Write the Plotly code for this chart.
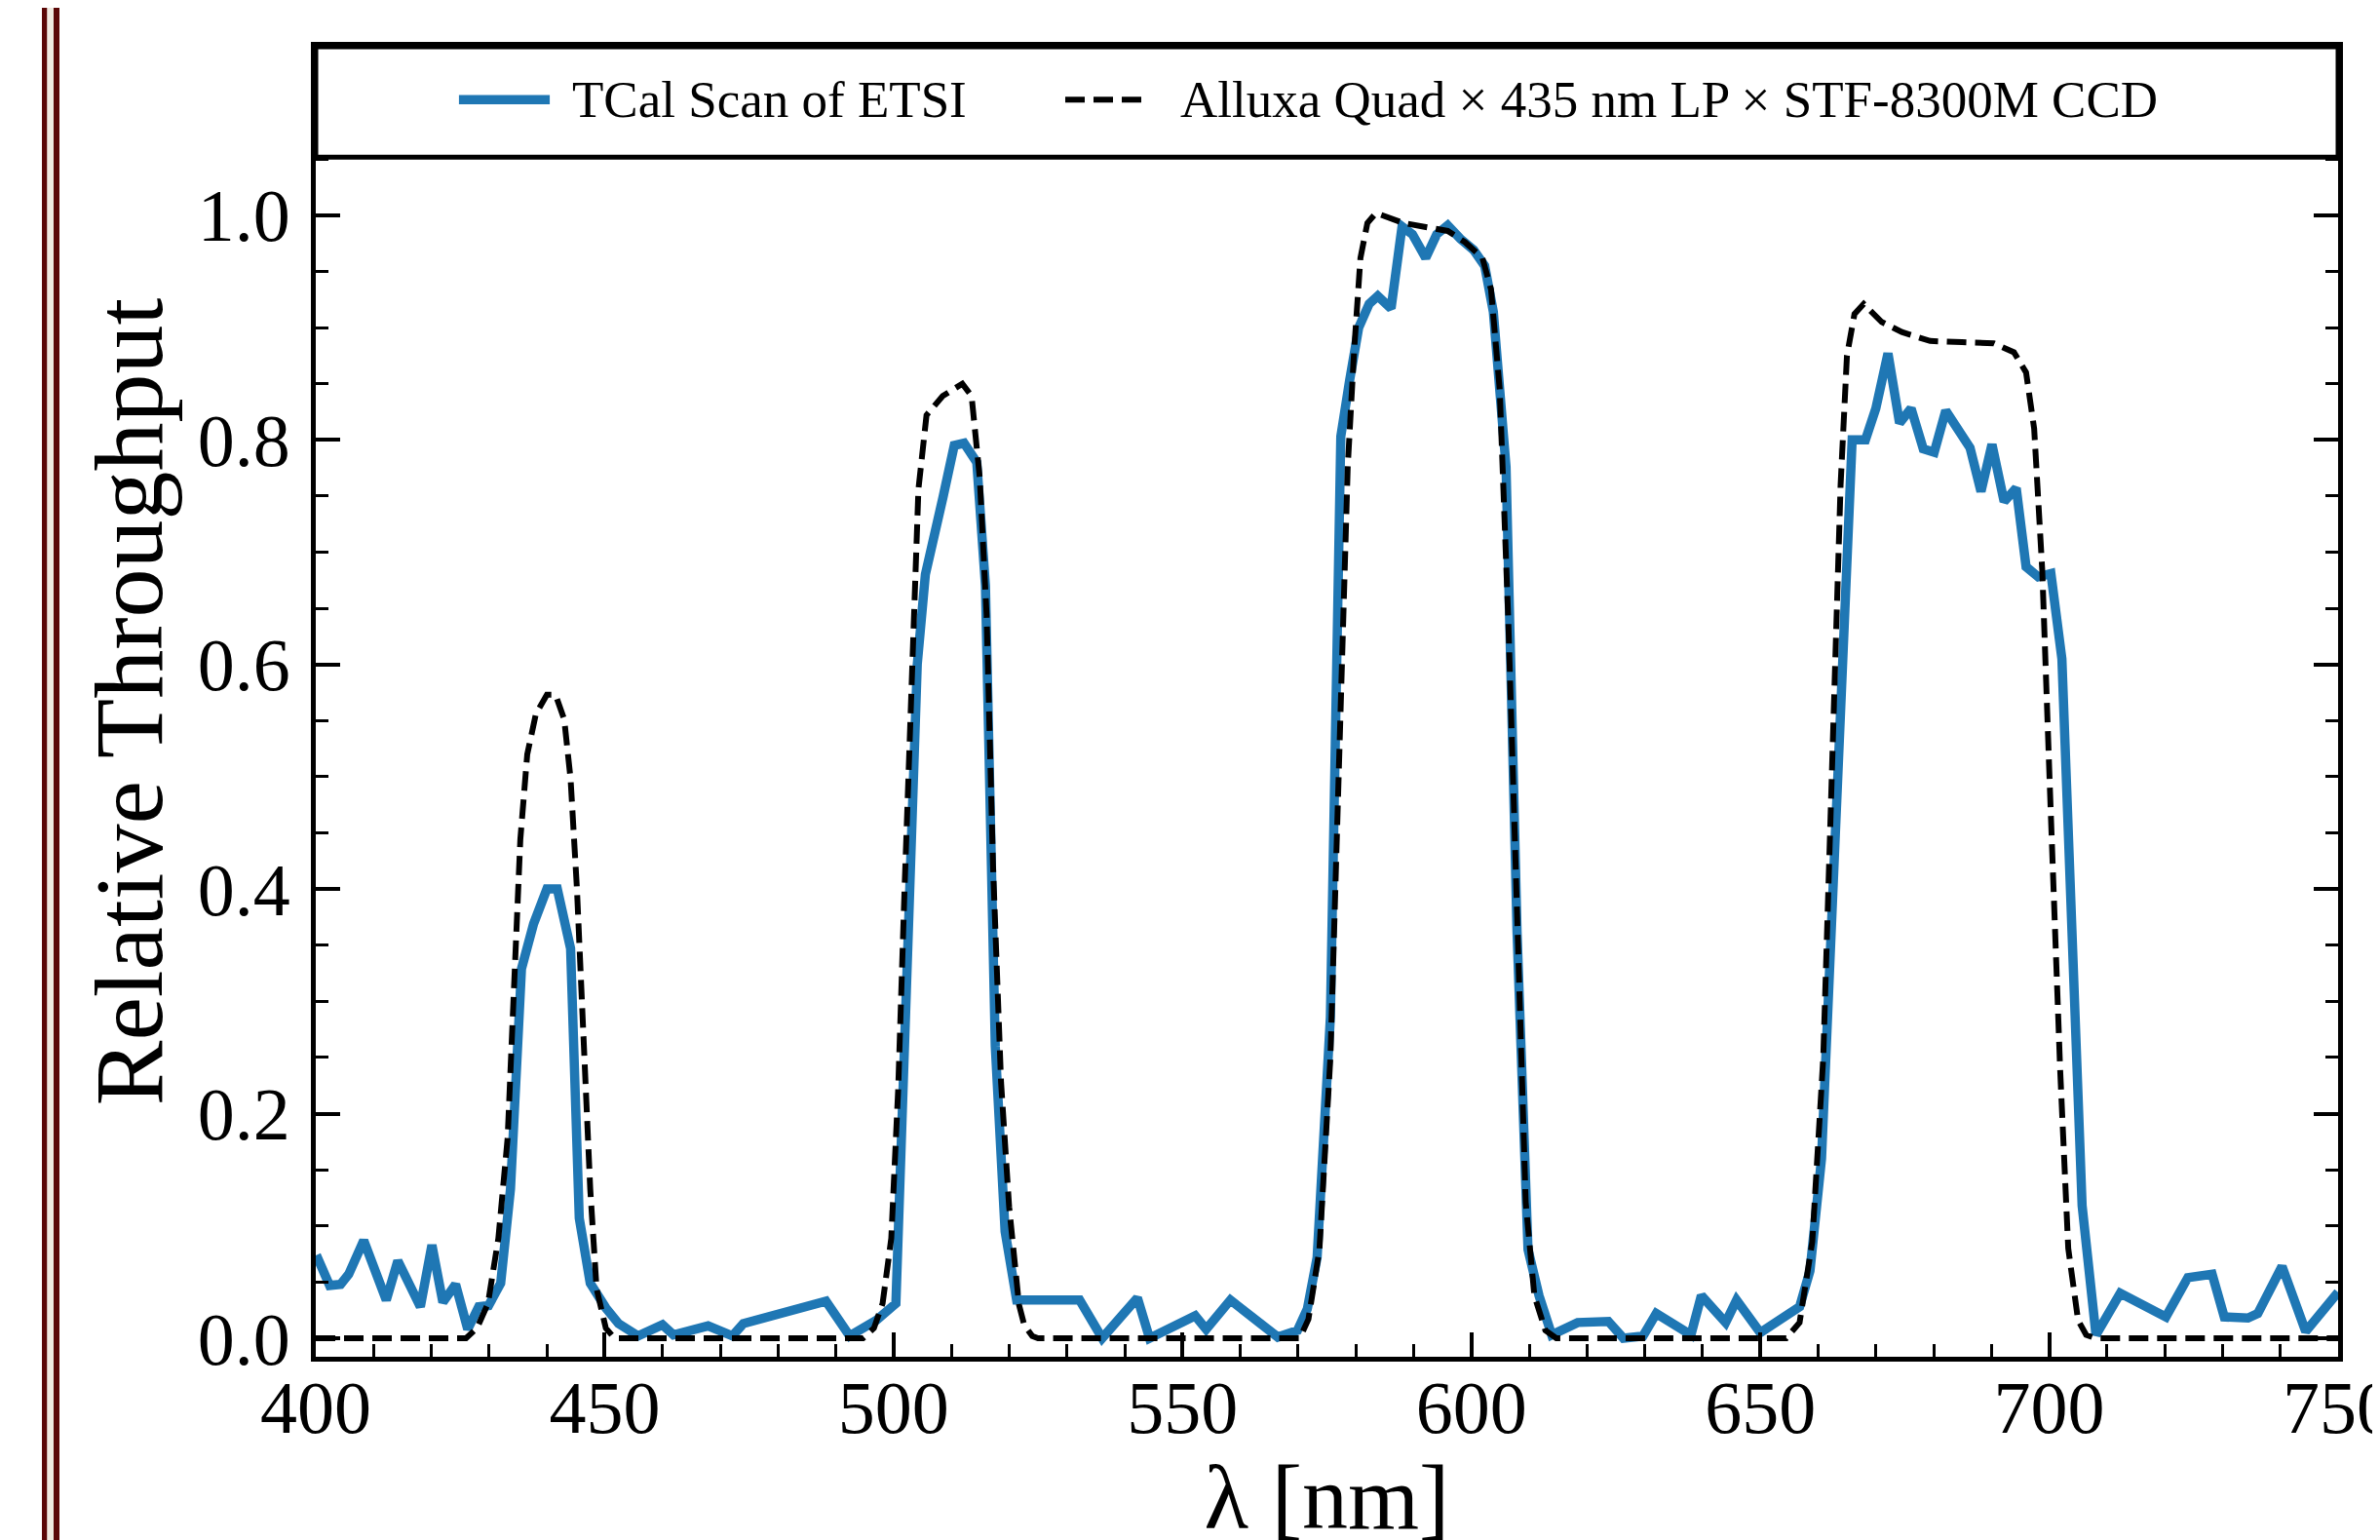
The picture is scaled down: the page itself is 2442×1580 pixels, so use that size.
import plotly.graph_objects as go

# TCal scan of ETSI (blue, measured)
scan_wl = [
    400.1, 402.4, 404.3, 405.7, 408.3, 412.2, 414.2, 418.1, 420.1, 422.0,
    424.2, 426.3, 428.2, 429.9, 432.0, 433.7, 435.6, 437.7, 440.0, 441.8,
    444.1, 445.6, 447.5, 450.2, 452.4, 455.8, 460.0, 461.9, 467.9, 472.1,
    474.0, 488.3, 492.4, 497.0, 500.4, 504.1, 505.5, 507.0, 508.6, 510.5,
    512.2, 514.4, 515.9, 517.6, 519.3, 521.3, 532.2, 536.1, 542.2, 544.3,
    552.2, 554.1, 558.3, 566.5, 569.9, 571.6, 573.3, 575.6, 577.4, 578.9,
    580.5, 582.3, 583.8, 586.1, 588.0, 589.8, 592.1, 594.0, 595.9, 598.1,
    600.4, 602.3, 603.8, 606.0, 607.9, 609.8, 611.7, 613.9, 618.4, 623.7,
    626.3, 629.7, 632.0, 638.0, 639.8, 644.0, 645.9, 650.0, 656.8, 658.6,
    660.6, 665.9, 668.2, 670.0, 672.1, 674.1, 676.1, 678.2, 680.1, 682.1,
    684.2, 686.3, 688.2, 690.1, 692.2, 694.3, 696.0, 698.1, 700.3, 702.2,
    705.7, 708.1, 712.3, 720.2, 724.0, 728.2, 730.3, 734.4, 736.1, 740.3,
    744.4, 750.0,
]
scan_tp = [
    0.074, 0.047, 0.048, 0.057, 0.087, 0.034, 0.069, 0.028, 0.083, 0.032,
    0.048, 0.008, 0.028, 0.029, 0.049, 0.133, 0.329, 0.369, 0.400, 0.400,
    0.347, 0.107, 0.049, 0.027, 0.013, 0.002, 0.012, 0.003, 0.011, 0.002,
    0.013, 0.033, 0.002, 0.016, 0.031, 0.600, 0.680, 0.718, 0.750, 0.795,
    0.797, 0.780, 0.670, 0.260, 0.095, 0.034, 0.034, 0.000, 0.036, 0.000,
    0.020, 0.008, 0.034, 0.001, 0.007, 0.026, 0.072, 0.286, 0.803, 0.852,
    0.900, 0.921, 0.928, 0.917, 0.990, 0.983, 0.962, 0.983, 0.991, 0.979,
    0.969, 0.955, 0.914, 0.776, 0.362, 0.079, 0.038, 0.003, 0.014, 0.015,
    0.000, 0.002, 0.022, 0.003, 0.038, 0.014, 0.034, 0.005, 0.028, 0.060,
    0.160, 0.800, 0.800, 0.828, 0.877, 0.815, 0.828, 0.792, 0.789, 0.826,
    0.808, 0.793, 0.754, 0.796, 0.745, 0.757, 0.687, 0.678, 0.681, 0.605,
    0.118, 0.003, 0.040, 0.019, 0.054, 0.057, 0.019, 0.018, 0.022, 0.064,
    0.006, 0.041,
]

# Alluxa Quad x 435 nm LP x STF-8300M CCD (dashed, model)
model_wl = [
    400.0, 426.0, 427.9, 429.8, 431.6, 433.2, 434.3, 435.4, 436.6, 438.1,
    440.0, 441.5, 443.0, 444.1, 445.2, 446.4, 447.5, 448.6, 450.2, 451.7,
    494.7, 496.6, 498.1, 499.6, 500.8, 501.9, 503.0, 504.3, 505.7, 508.5,
    511.9, 513.5, 514.9, 516.1, 517.2, 518.6, 520.0, 521.7, 522.6, 524.0,
    525.0, 570.3, 571.8, 573.7, 575.6, 577.1, 578.6, 579.7, 580.8, 582.0,
    583.5, 588.3, 592.1, 595.9, 598.9, 601.9, 603.4, 604.9, 606.4, 607.9,
    609.4, 610.9, 612.8, 614.7, 654.5, 656.8, 659.0, 660.9, 662.4, 663.9,
    665.0, 666.3, 667.9, 671.0, 674.5, 679.4, 684.9, 690.4, 693.9, 696.0,
    697.4, 698.8, 700.1, 701.9, 703.3, 705.0, 706.4, 708.0, 750.0,
]
model_tp = [
    0.000, 0.000, 0.009, 0.031, 0.089, 0.178, 0.311, 0.444, 0.520, 0.556,
    0.573, 0.573, 0.551, 0.498, 0.400, 0.267, 0.133, 0.044, 0.009, 0.000,
    0.000, 0.009, 0.031, 0.089, 0.222, 0.400, 0.578, 0.756, 0.822, 0.839,
    0.850, 0.839, 0.767, 0.644, 0.422, 0.228, 0.117, 0.030, 0.012, 0.002,
    0.000, 0.000, 0.017, 0.079, 0.250, 0.500, 0.776, 0.879, 0.962, 0.993,
    1.002, 0.993, 0.990, 0.986, 0.976, 0.962, 0.934, 0.845, 0.638, 0.362,
    0.121, 0.038, 0.007, 0.000, 0.000, 0.014, 0.086, 0.250, 0.500, 0.760,
    0.875, 0.912, 0.921, 0.905, 0.896, 0.888, 0.887, 0.886, 0.878, 0.860,
    0.810, 0.684, 0.493, 0.239, 0.080, 0.016, 0.003, 0.000, 0.000,
]

x_ticks = [400, 450, 500, 550, 600, 650, 700, 750]
y_ticks = [0.0, 0.2, 0.4, 0.6, 0.8, 1.0]
legend_names = ['TCal Scan of ETSI', 'Alluxa Quad × 435 nm LP × STF-8300M CCD']

FONT = 'Liberation Serif'
BLUE = '#1f77b4'
MAROON = '#5a0707'
DASH = '20px,9px'

fig = go.Figure()

fig.add_trace(
    go.Scatter(
        x=scan_wl,
        y=scan_tp,
        mode='lines',
        name=legend_names[0],
        line=dict(color=BLUE, width=9.5)
    )
)

fig.add_trace(
    go.Scatter(
        x=model_wl,
        y=model_tp,
        mode='lines',
        name=legend_names[1],
        line=dict(color='black', width=6, dash=DASH)
    )
)

axis_common = dict(
    showline=True,
    linecolor='black',
    linewidth=5,
    showgrid=False,
    zeroline=False,
    ticks='inside',
    ticklen=25,
    tickwidth=4,
    tickcolor='black',
    tickfont=dict(family=FONT, size=76, color='black'),
    ticklabeloverflow='allow',
    automargin=False,
)

fig.update_xaxes(
    **axis_common,
    mirror=True,
    range=[399.999, 750.001],
    tickvals=x_ticks,
    ticklabelstandoff=-18,
    minor=dict(dtick=10, tick0=400, ticks='inside', ticklen=13, tickwidth=3, tickcolor='black'),
    title=dict(text='λ [nm]', font=dict(family=FONT, size=94, color='black'), standoff=62),
)

fig.update_yaxes(
    **axis_common,
    mirror='allticks',
    range=[-0.0165, 1.15],
    tickvals=y_ticks,
    tickformat='.1f',
    ticklabelstandoff=6,
    minor=dict(dtick=0.05, tick0=0, ticks='inside', ticklen=13, tickwidth=3, tickcolor='black'),
    title=dict(text='Relative Throughput', font=dict(family=FONT, size=100, color='black'), standoff=4),
)

# legend band across the top of the axes
fig.add_shape(
    type='rect', xref='paper', yref='y',
    x0=0, x1=1, y0=1.0516, y1=1.15,
    fillcolor='white', line=dict(color='black', width=5), layer='above'
)

legend_y = 1.103
samples = [
    dict(x0=0.0708, x1=0.1157, color=BLUE, width=9.5, dash='solid', tx=0.1258),
    dict(x0=0.3706, x1=0.4120, color='black', width=6, dash=DASH, tx=0.4265),
]
for s, name in zip(samples, legend_names):
    fig.add_shape(
        type='line', xref='paper', yref='y',
        x0=s['x0'], x1=s['x1'], y0=legend_y, y1=legend_y,
        line=dict(color=s['color'], width=s['width'], dash=s['dash']),
        layer='above'
    )
    fig.add_annotation(
        x=s['tx'], y=legend_y, xref='paper', yref='y',
        text=name, showarrow=False, xanchor='left', yanchor='middle',
        font=dict(family=FONT, size=53, color='black')
    )

# maroon page rule on the far left
for x0, x1, col in [(35, 40.5, MAROON), (40.5, 47, '#efe9e0'), (47, 53, MAROON)]:
    fig.add_shape(
        type='rect', xref='paper', yref='paper',
        x0=(x0 - 316) / 2075, x1=(x1 - 316) / 2075, y0=-0.2, y1=1.1,
        fillcolor=col, line=dict(width=0), layer='above'
    )

fig.update_layout(
    width=2442,
    height=1580,
    template='plotly_white',
    showlegend=False,
    paper_bgcolor='white',
    plot_bgcolor='white',
    margin=dict(l=316, r=51, t=40, b=196),
)

fig.write_html('out.html')
